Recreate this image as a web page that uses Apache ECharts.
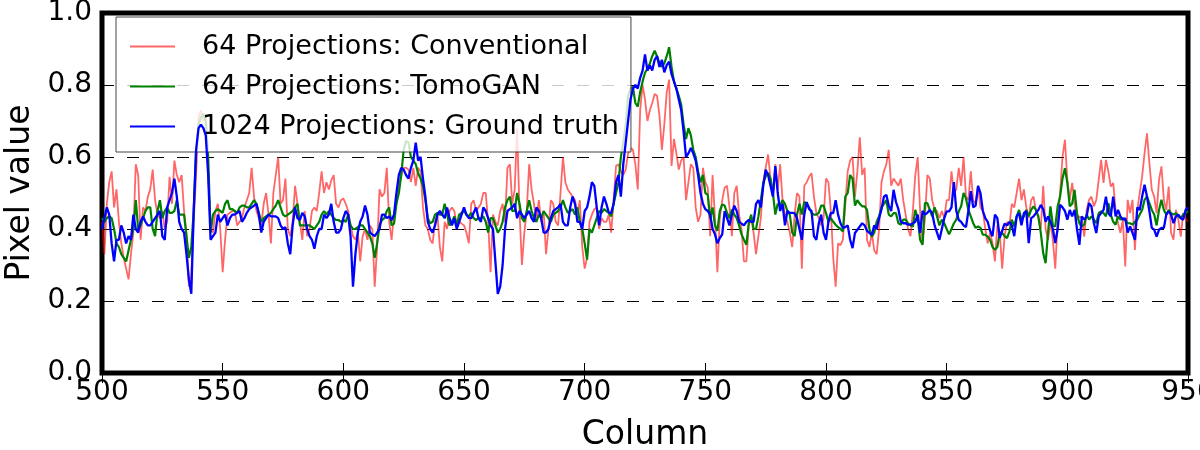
<!DOCTYPE html>
<html>
<head>
<meta charset="utf-8">
<script src="https://cdn.jsdelivr.net/npm/echarts@6/dist/echarts.min.js"></script>
<style>
html,body{margin:0;padding:0;background:#fff;}
#chart{width:1200px;height:450px;}
</style>
</head>
<body>
<div id="chart"></div>
<script>
// Column axis: first column shown (500 .. 950)
const startColumn = 500;
const xTicks = [500, 550, 600, 650, 700, 750, 800, 850, 900, 950];
const yTicks = [0.0, 0.2, 0.4, 0.6, 0.8, 1.0];

const seriesNames = [
  "64 Projections: Conventional",
  "64 Projections: TomoGAN",
  "1024 Projections: Ground truth"
];

// 64 Projections: Conventional (one value per column, 500..950)
const conventional = [
  0.42,0.33,0.47,0.53,0.56,0.46,0.51,0.42,0.36,0.32, // 500
  0.29,0.26,0.33,0.39,0.58,0.55,0.37,0.46,0.45,0.49, // 510
  0.51,0.565,0.48,0.44,0.43,0.45,0.40,0.42,0.545,0.47, // 520
  0.59,0.55,0.53,0.55,0.45,0.39,0.24,0.27,0.42,0.55, // 530
  0.71,0.73,0.70,0.72,0.55,0.40,0.39,0.45,0.47,0.40, // 540
  0.28,0.37,0.44,0.445,0.45,0.45,0.41,0.42,0.43,0.46, // 550
  0.48,0.50,0.57,0.49,0.45,0.43,0.41,0.47,0.50,0.44, // 560
  0.36,0.50,0.55,0.60,0.47,0.48,0.54,0.40,0.38,0.42, // 570
  0.52,0.47,0.42,0.37,0.45,0.38,0.40,0.45,0.46,0.45, // 580
  0.50,0.56,0.50,0.53,0.51,0.535,0.55,0.47,0.46,0.48, // 590
  0.485,0.47,0.45,0.41,0.38,0.37,0.39,0.31,0.38,0.40, // 600
  0.37,0.41,0.40,0.24,0.35,0.51,0.49,0.50,0.57,0.42, // 610
  0.37,0.44,0.47,0.52,0.55,0.57,0.57,0.565,0.53,0.57, // 620
  0.52,0.57,0.56,0.46,0.41,0.40,0.37,0.36,0.42,0.44, // 630
  0.35,0.31,0.42,0.40,0.45,0.46,0.45,0.41,0.42,0.415, // 640
  0.41,0.39,0.36,0.47,0.48,0.45,0.46,0.47,0.50,0.50, // 650
  0.42,0.28,0.44,0.42,0.41,0.45,0.47,0.42,0.57,0.58, // 660
  0.47,0.51,0.68,0.45,0.30,0.39,0.45,0.58,0.51,0.47, // 670
  0.42,0.48,0.42,0.45,0.33,0.40,0.48,0.47,0.42,0.41, // 680
  0.50,0.60,0.53,0.51,0.50,0.49,0.48,0.44,0.48,0.35, // 690
  0.29,0.32,0.42,0.44,0.455,0.46,0.40,0.43,0.42,0.42, // 700
  0.44,0.39,0.48,0.575,0.58,0.56,0.55,0.565,0.61,0.625, // 710
  0.62,0.58,0.51,0.73,0.80,0.76,0.70,0.73,0.75,0.775, // 720
  0.77,0.715,0.62,0.69,0.78,0.815,0.575,0.65,0.61,0.565, // 730
  0.59,0.60,0.48,0.53,0.58,0.57,0.46,0.42,0.44,0.57, // 740
  0.53,0.515,0.38,0.55,0.43,0.28,0.43,0.48,0.515,0.52, // 750
  0.46,0.38,0.50,0.52,0.44,0.40,0.31,0.31,0.41,0.43, // 760
  0.39,0.33,0.38,0.43,0.53,0.57,0.607,0.54,0.49,0.58, // 770
  0.51,0.58,0.48,0.44,0.42,0.39,0.35,0.44,0.50,0.49, // 780
  0.29,0.52,0.53,0.545,0.555,0.49,0.445,0.43,0.41,0.43, // 790
  0.54,0.53,0.45,0.32,0.24,0.36,0.355,0.37,0.47,0.56, // 800
  0.59,0.60,0.49,0.56,0.655,0.55,0.57,0.37,0.35,0.39, // 810
  0.34,0.33,0.40,0.53,0.56,0.58,0.62,0.52,0.54,0.53, // 820
  0.52,0.54,0.48,0.44,0.40,0.38,0.45,0.55,0.60,0.45, // 830
  0.36,0.43,0.55,0.54,0.48,0.455,0.45,0.43,0.45,0.43, // 840
  0.48,0.48,0.56,0.50,0.51,0.57,0.52,0.60,0.49,0.48, // 850
  0.56,0.48,0.47,0.52,0.46,0.45,0.40,0.36,0.39,0.36, // 860
  0.31,0.41,0.39,0.29,0.38,0.42,0.41,0.47,0.46,0.50, // 870
  0.54,0.48,0.51,0.46,0.43,0.48,0.49,0.45,0.43,0.40, // 880
  0.52,0.40,0.37,0.42,0.37,0.29,0.42,0.50,0.60,0.648, // 890
  0.537,0.481,0.528,0.472,0.426,0.435,0.43,0.379,0.453,0.481, // 900
  0.49,0.463,0.481,0.537,0.592,0.528,0.592,0.56,0.518,0.528, // 910
  0.453,0.416,0.389,0.426,0.296,0.481,0.444,0.481,0.342,0.453, // 920
  0.50,0.546,0.611,0.666,0.583,0.509,0.49,0.444,0.537,0.574, // 930
  0.481,0.453,0.518,0.389,0.37,0.453,0.426,0.379,0.444,0.43, // 940
  0.42 // 950
];

// 64 Projections: TomoGAN
const tomogan = [
  0.43,0.42,0.43,0.435,0.43,0.40,0.36,0.35,0.33,0.32, // 500
  0.31,0.34,0.37,0.40,0.48,0.40,0.41,0.43,0.45,0.46, // 510
  0.46,0.40,0.38,0.45,0.48,0.43,0.45,0.46,0.445,0.445, // 520
  0.45,0.48,0.44,0.44,0.44,0.38,0.32,0.35,0.45,0.62, // 530
  0.69,0.71,0.72,0.70,0.60,0.39,0.44,0.45,0.455,0.45, // 540
  0.445,0.47,0.48,0.455,0.455,0.45,0.445,0.46,0.465,0.465, // 550
  0.46,0.46,0.47,0.48,0.47,0.445,0.42,0.43,0.435,0.44, // 560
  0.445,0.455,0.465,0.48,0.46,0.44,0.435,0.44,0.445,0.45, // 570
  0.46,0.47,0.41,0.41,0.41,0.41,0.41,0.405,0.40,0.41, // 580
  0.42,0.44,0.45,0.44,0.45,0.44,0.43,0.425,0.425,0.42, // 590
  0.425,0.42,0.44,0.41,0.40,0.40,0.405,0.41,0.41,0.40, // 600
  0.39,0.38,0.36,0.32,0.36,0.41,0.425,0.43,0.45,0.46, // 610
  0.41,0.415,0.47,0.50,0.55,0.62,0.645,0.64,0.60,0.59, // 620
  0.58,0.555,0.54,0.52,0.48,0.43,0.416,0.42,0.44,0.445, // 630
  0.44,0.44,0.47,0.44,0.41,0.42,0.435,0.41,0.44,0.445, // 640
  0.45,0.44,0.435,0.445,0.43,0.425,0.43,0.43,0.435,0.42, // 650
  0.39,0.43,0.43,0.41,0.39,0.40,0.42,0.46,0.48,0.49, // 660
  0.45,0.45,0.50,0.47,0.43,0.42,0.45,0.48,0.45,0.43, // 670
  0.42,0.44,0.43,0.45,0.44,0.43,0.42,0.44,0.445,0.45, // 680
  0.46,0.48,0.46,0.445,0.45,0.455,0.44,0.46,0.42,0.40, // 690
  0.36,0.315,0.40,0.39,0.41,0.43,0.45,0.445,0.455,0.45, // 700
  0.445,0.435,0.47,0.50,0.53,0.60,0.64,0.69,0.77,0.79, // 710
  0.795,0.75,0.74,0.78,0.81,0.834,0.845,0.86,0.88,0.895, // 720
  0.88,0.86,0.85,0.86,0.88,0.905,0.85,0.81,0.79,0.77, // 730
  0.745,0.69,0.65,0.68,0.66,0.62,0.60,0.56,0.53,0.55, // 740
  0.50,0.495,0.43,0.46,0.41,0.395,0.45,0.468,0.465,0.445, // 750
  0.43,0.454,0.44,0.43,0.41,0.385,0.37,0.356,0.417,0.44, // 760
  0.40,0.40,0.435,0.48,0.528,0.546,0.556,0.54,0.50,0.44, // 770
  0.47,0.465,0.48,0.47,0.45,0.44,0.39,0.38,0.44,0.47, // 780
  0.44,0.475,0.47,0.46,0.445,0.44,0.44,0.445,0.465,0.465, // 790
  0.444,0.42,0.43,0.42,0.412,0.405,0.40,0.393,0.49,0.50, // 800
  0.55,0.54,0.465,0.48,0.47,0.463,0.463,0.453,0.40,0.379, // 810
  0.39,0.42,0.435,0.46,0.47,0.48,0.44,0.435,0.444,0.444, // 820
  0.416,0.412,0.426,0.426,0.416,0.41,0.407,0.453,0.43,0.37, // 830
  0.356,0.472,0.472,0.453,0.435,0.46,0.435,0.41,0.426,0.416, // 840
  0.40,0.385,0.40,0.416,0.426,0.449,0.463,0.50,0.485,0.453, // 850
  0.435,0.416,0.403,0.407,0.403,0.384,0.384,0.379,0.37,0.35, // 860
  0.342,0.35,0.389,0.389,0.38,0.375,0.393,0.426,0.407,0.435, // 870
  0.453,0.426,0.435,0.453,0.435,0.453,0.463,0.453,0.435,0.389, // 880
  0.333,0.305,0.389,0.463,0.41,0.407,0.463,0.49,0.54,0.569, // 890
  0.528,0.463,0.47,0.509,0.444,0.416,0.407,0.412,0.44,0.426, // 900
  0.435,0.426,0.416,0.444,0.449,0.444,0.435,0.472,0.44,0.42, // 910
  0.412,0.435,0.426,0.43,0.426,0.416,0.416,0.412,0.42,0.426, // 920
  0.44,0.453,0.481,0.49,0.472,0.453,0.44,0.41,0.453,0.481, // 930
  0.453,0.44,0.453,0.444,0.44,0.444,0.435,0.43,0.44,0.444, // 940
  0.45 // 950
];

// 1024 Projections: Ground truth
const groundTruth = [
  0.40,0.43,0.46,0.44,0.36,0.31,0.37,0.37,0.41,0.39, // 500
  0.36,0.38,0.37,0.44,0.40,0.39,0.42,0.435,0.42,0.41, // 510
  0.41,0.42,0.43,0.44,0.45,0.38,0.37,0.46,0.48,0.50, // 520
  0.54,0.49,0.42,0.40,0.39,0.33,0.26,0.22,0.45,0.62, // 530
  0.68,0.69,0.68,0.66,0.55,0.37,0.38,0.39,0.44,0.42, // 540
  0.43,0.44,0.41,0.43,0.44,0.44,0.445,0.45,0.42,0.43, // 550
  0.445,0.455,0.46,0.465,0.47,0.44,0.39,0.42,0.43,0.44, // 560
  0.435,0.435,0.435,0.43,0.41,0.40,0.405,0.36,0.33,0.41, // 570
  0.46,0.43,0.425,0.445,0.435,0.40,0.38,0.37,0.345,0.38, // 580
  0.40,0.40,0.44,0.43,0.44,0.47,0.42,0.39,0.39,0.40, // 590
  0.43,0.45,0.44,0.38,0.24,0.33,0.39,0.42,0.435,0.465, // 600
  0.44,0.39,0.385,0.38,0.39,0.40,0.44,0.44,0.43,0.435, // 610
  0.425,0.44,0.50,0.55,0.57,0.565,0.55,0.54,0.57,0.59, // 620
  0.64,0.59,0.60,0.54,0.49,0.42,0.40,0.39,0.41,0.44, // 630
  0.45,0.44,0.43,0.46,0.43,0.41,0.43,0.40,0.42,0.44, // 640
  0.46,0.44,0.43,0.43,0.445,0.46,0.43,0.42,0.46,0.45, // 650
  0.43,0.41,0.40,0.31,0.22,0.24,0.30,0.40,0.45,0.455, // 660
  0.46,0.47,0.43,0.45,0.44,0.43,0.44,0.45,0.43,0.42, // 670
  0.46,0.45,0.43,0.39,0.39,0.40,0.43,0.45,0.455,0.46, // 680
  0.47,0.42,0.41,0.41,0.46,0.49,0.47,0.42,0.42,0.40, // 690
  0.45,0.46,0.49,0.53,0.52,0.46,0.41,0.46,0.49,0.47, // 700
  0.445,0.445,0.47,0.53,0.55,0.49,0.58,0.64,0.70,0.76, // 710
  0.79,0.80,0.79,0.82,0.84,0.885,0.84,0.855,0.84,0.87, // 720
  0.88,0.85,0.87,0.835,0.855,0.865,0.83,0.81,0.79,0.76, // 730
  0.73,0.67,0.60,0.61,0.625,0.61,0.59,0.55,0.50,0.47, // 740
  0.455,0.45,0.44,0.40,0.385,0.36,0.375,0.385,0.45,0.43, // 750
  0.41,0.44,0.465,0.45,0.42,0.415,0.41,0.42,0.425,0.42, // 760
  0.42,0.47,0.48,0.46,0.52,0.565,0.55,0.52,0.49,0.575, // 770
  0.50,0.45,0.47,0.41,0.45,0.445,0.445,0.444,0.43,0.40, // 780
  0.37,0.44,0.475,0.455,0.45,0.38,0.37,0.415,0.44,0.39, // 790
  0.37,0.42,0.445,0.444,0.48,0.44,0.416,0.403,0.405,0.41, // 800
  0.37,0.347,0.389,0.398,0.407,0.416,0.41,0.395,0.389,0.384, // 810
  0.41,0.40,0.43,0.455,0.49,0.495,0.465,0.45,0.509,0.475, // 820
  0.455,0.42,0.416,0.416,0.412,0.412,0.416,0.42,0.44,0.389, // 830
  0.45,0.44,0.445,0.453,0.444,0.41,0.39,0.37,0.40,0.43, // 840
  0.449,0.449,0.46,0.53,0.45,0.425,0.42,0.41,0.405,0.45, // 850
  0.505,0.46,0.465,0.52,0.50,0.45,0.43,0.42,0.395,0.38, // 860
  0.44,0.43,0.375,0.395,0.415,0.41,0.42,0.41,0.38,0.435, // 870
  0.444,0.41,0.444,0.45,0.361,0.43,0.435,0.444,0.453,0.467, // 880
  0.455,0.42,0.435,0.421,0.40,0.361,0.40,0.467,0.46,0.45, // 890
  0.426,0.453,0.435,0.453,0.40,0.356,0.435,0.426,0.435,0.472, // 900
  0.463,0.416,0.389,0.435,0.444,0.453,0.49,0.444,0.435,0.49, // 910
  0.435,0.453,0.435,0.426,0.43,0.39,0.407,0.389,0.37,0.46, // 920
  0.453,0.49,0.523,0.49,0.45,0.403,0.398,0.379,0.398,0.403, // 930
  0.403,0.44,0.449,0.44,0.416,0.435,0.44,0.43,0.426,0.453, // 940
  0.46 // 950
];

const toPairs = arr => arr.map((v, i) => [startColumn + i, v]);
const FONT = "DejaVu Sans";

const chart = echarts.init(document.getElementById('chart'), null, {renderer: 'canvas'});
chart.setOption({
  animation: false,
  backgroundColor: '#ffffff',
  grid: {
    left: 102, right: 12, top: 13, bottom: 77,
    containLabel: false, outerBoundsMode: 'none',
    show: true, borderColor: '#000', borderWidth: 5, backgroundColor: 'transparent'
  },
  legend: {
    orient: 'vertical',
    left: 116, top: 17,
    padding: [16, 12, 12, 14],
    itemGap: 13,
    itemWidth: 45, itemHeight: 2,
    icon: 'rect',
    backgroundColor: 'rgba(255,255,255,0.8)',
    borderColor: '#444', borderWidth: 1, borderRadius: 0,
    textStyle: {fontFamily: FONT, fontSize: 27, color: '#000', padding: [0, 0, 0, 22]},
    data: seriesNames
  },
  xAxis: [{
    type: 'value', min: xTicks[0], max: xTicks[xTicks.length - 1], interval: 50,
    name: 'Column', nameLocation: 'middle', nameGap: 46,
    nameTextStyle: {fontFamily: FONT, fontSize: 33, color: '#000'},
    axisLine: {show: false},
    axisTick: {show: true, inside: true, length: 10, lineStyle: {color: '#000', width: 1}},
    axisLabel: {fontFamily: FONT, fontSize: 28, color: '#000', margin: 6,
      alignMinLabel: 'center', alignMaxLabel: 'center'},
    splitLine: {show: false}
  }, {
    type: 'value', position: 'top', min: xTicks[0], max: xTicks[xTicks.length - 1], interval: 50,
    axisLine: {show: false},
    axisTick: {show: true, inside: true, length: 10, lineStyle: {color: '#000', width: 1}},
    axisLabel: {show: false},
    splitLine: {show: false}
  }],
  yAxis: [{
    type: 'value', min: yTicks[0], max: yTicks[yTicks.length - 1], interval: 0.2,
    name: 'Pixel value', nameLocation: 'middle', nameGap: 62,
    nameTextStyle: {fontFamily: FONT, fontSize: 33, color: '#000'},
    axisLine: {show: false},
    axisTick: {show: true, inside: true, length: 10, lineStyle: {color: '#000', width: 1}},
    axisLabel: {fontFamily: FONT, fontSize: 28, color: '#000', margin: 10,
      formatter: v => v.toFixed(1)},
    splitLine: {show: true, lineStyle: {color: '#000', width: 1, type: [12, 13]}}
  }, {
    type: 'value', position: 'right', min: yTicks[0], max: yTicks[yTicks.length - 1], interval: 0.2,
    axisLine: {show: false},
    axisTick: {show: true, inside: true, length: 10, lineStyle: {color: '#000', width: 1}},
    axisLabel: {show: false},
    splitLine: {show: false}
  }],
  series: [
    {name: seriesNames[0], type: 'line', data: toPairs(conventional), symbol: 'none',
     color: 'rgba(255,0,0,0.6)', lineStyle: {width: 1.8, color: 'rgba(255,0,0,0.6)'}, z: 2},
    {name: seriesNames[1], type: 'line', data: toPairs(tomogan), symbol: 'none',
     color: '#008000', lineStyle: {width: 2.2, color: '#008000'}, z: 3},
    {name: seriesNames[2], type: 'line', data: toPairs(groundTruth), symbol: 'none',
     color: '#0000ff', lineStyle: {width: 2.3, color: '#0000ff'}, z: 4}
  ]
});
</script>
</body>
</html>
